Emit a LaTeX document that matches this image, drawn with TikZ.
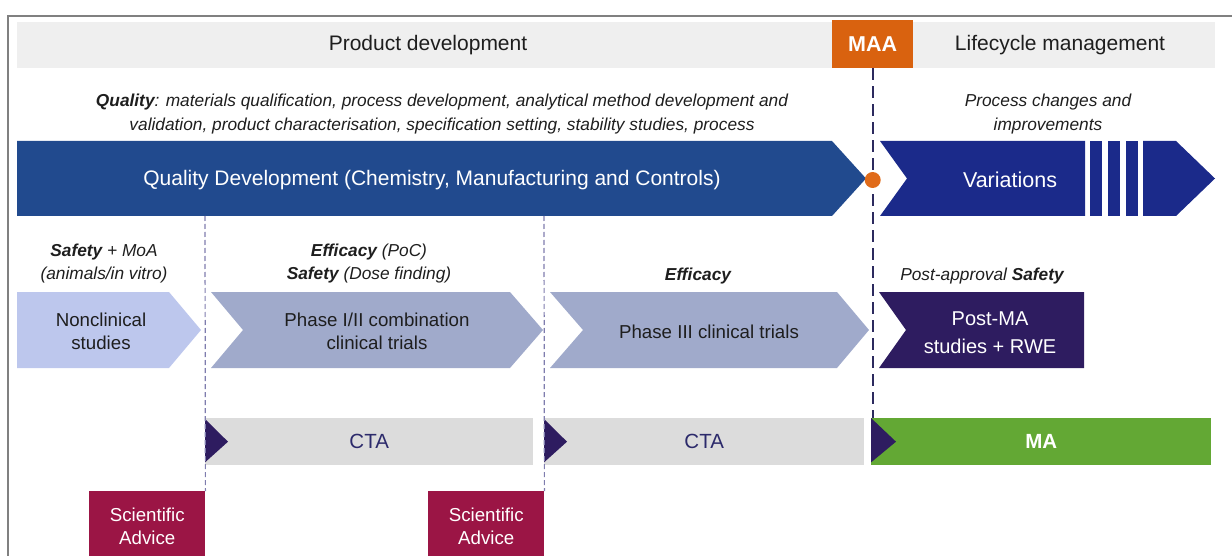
\documentclass[tikz,border=0pt]{standalone}
\usepackage{fontspec}
\setmainfont{Liberation Sans}
\usetikzlibrary{positioning}

\definecolor{bandgray}{HTML}{EFEFEF}
\definecolor{maaorange}{HTML}{D9620F}
\definecolor{qblue}{HTML}{214A8E}
\definecolor{varblue}{HTML}{1B2A8A}
\definecolor{dotorange}{HTML}{E06B1A}
\definecolor{nonclin}{HTML}{BDC7ED}
\definecolor{phase}{HTML}{A0AACB}
\definecolor{postma}{HTML}{2E1C60}
\definecolor{ctagray}{HTML}{DCDCDC}
\definecolor{ctatext}{HTML}{2C2A6B}
\definecolor{magreen}{HTML}{63A834}
\definecolor{sared}{HTML}{9B1545}
\definecolor{lightdash}{HTML}{7F7DAE}
\definecolor{navydash}{HTML}{2C2A5E}
\definecolor{txtgray}{HTML}{1E1E1E}

\begin{document}
\begin{tikzpicture}[x=1pt,y=-1pt,
    head/.style={inner sep=0pt,text=txtgray,font=\fontsize{21}{25}\selectfont},
    lbl/.style={align=center,inner sep=0pt,text=txtgray,font=\fontsize{17.3}{23}\selectfont\itshape},
    chv/.style={align=center,inner sep=0pt,text=txtgray,font=\fontsize{18.7}{23}\selectfont},
    bar/.style={anchor=north west,inner sep=0pt,minimum height=47,font=\fontsize{20.5}{24}\selectfont},
    tri/.style={fill=postma},
    sabox/.style={anchor=north west,fill=sared,text=white,minimum width=116,minimum height=71,
                  inner sep=0pt,align=center,font=\fontsize{18.7}{23}\selectfont},
    ldash/.style={lightdash,line width=1.2pt,dash pattern=on 5pt off 3pt},
    ndash/.style={navydash,line width=2.4pt,dash pattern=on 12pt off 6pt}]

    \useasboundingbox (0,0) rectangle (1232,556);

    % frame and header
    \draw[gray,line width=1.6pt] (8,556) -- (8,16) -- (1232,16);
    \node[fill=bandgray,anchor=north west,minimum width=1198,minimum height=46,inner sep=0pt] (band) at (17,22) {};
    \node[fill=maaorange,anchor=north west,minimum width=81,minimum height=48,inner sep=0pt,
          text=white,font=\fontsize{21.5}{24}\selectfont\bfseries] (MAA) at (832,20) {MAA};
    \node[head] (PD) at (428,45) {Product development};
    \node[head] (LM) at (1060,45) {Lifecycle management};

    % quality row
    \node[lbl,font=\fontsize{17.3}{24}\selectfont\itshape] (QL) at (442,114) {\textbf{Quality}: materials qualification, process development, analytical method development and\\
                                  validation, product characterisation, specification setting, stability studies, process};
    \node[lbl,font=\fontsize{17.3}{24}\selectfont\itshape] (PC) at (1048,114) {Process changes and\\improvements};

    \fill[qblue] (17,141) -- (832,141) -- (866,178.5) -- (832,216) -- (17,216) -- cycle;
    \fill[varblue] (880,141) -- (1085,141) -- (1085,216) -- (880,216) -- (907,178.5) -- cycle;
    \fill[varblue] (1090,141) rectangle (1102,216);
    \fill[varblue] (1108,141) rectangle (1120,216);
    \fill[varblue] (1126,141) rectangle (1138,216);
    \fill[varblue] (1143,141) -- (1176,141) -- (1215,178.5) -- (1176,216) -- (1143,216) -- cycle;
    \node[chv,text=white,font=\fontsize{21}{25}\selectfont] (QD) at (432,180) {Quality Development (Chemistry, Manufacturing and Controls)};
    \node[chv,text=white,font=\fontsize{21.5}{25}\selectfont] (VAR) at (1010,180) {Variations};

    % development chevrons
    \fill[nonclin] (17,292) -- (169,292) -- (201,330) -- (169,368) -- (17,368) -- cycle;
    \fill[phase] (211,292) -- (510,292) -- (543,330) -- (510,368) -- (211,368) -- (243,330) -- cycle;
    \fill[phase] (550,292) -- (837,292) -- (869,330) -- (837,368) -- (550,368) -- (583,330) -- cycle;
    \fill[postma] (879,292) -- (1084,292) -- (1084,368) -- (879,368) -- (906,330) -- cycle;

    \node[lbl] (L1) at (104,264) {\textbf{Safety} + MoA\\(animals/in vitro)};
    \node[lbl] (L2) at (369,264) {\textbf{Efficacy} (PoC)\\\textbf{Safety} (Dose finding)};
    \node[lbl] (L3) at (698,276) {\textbf{Efficacy}};
    \node[lbl] (L4) at (982,276) {Post-approval \textbf{Safety}};

    \node[chv] (NC) at (101,331) {Nonclinical\\studies};
    \node[chv] (P12) at (377,331) {Phase I/II combination\\clinical trials};
    \node[chv] (P3) at (709,332) {Phase III clinical trials};
    \node[chv,text=white,font=\fontsize{20}{28}\selectfont] (PMA) at (990,333) {Post-MA\\studies + RWE};

    % authorisation bars
    \node[bar,fill=ctagray,text=ctatext,minimum width=328] (C1) at (205,418) {CTA};
    \node[bar,fill=ctagray,text=ctatext,minimum width=320] (C2) at (544,418) {CTA};
    \node[bar,fill=magreen,text=white,minimum width=340,font=\fontsize{20.5}{24}\selectfont\bfseries] (MA) at (871,418) {MA};
    \fill[tri] ([yshift=-1pt]C1.north west) -- ([xshift=23pt]C1.west) -- ([yshift=3pt]C1.south west) -- cycle;
    \fill[tri] ([yshift=-1pt]C2.north west) -- ([xshift=23pt]C2.west) -- ([yshift=3pt]C2.south west) -- cycle;
    \fill[tri] (MA.north west) -- ([xshift=25pt]MA.west) -- ([yshift=3pt]MA.south west) -- cycle;

    % scientific advice
    \node[sabox] (SA1) at (89,491) {Scientific\\Advice};
    \node[sabox] (SA2) at (428,491) {Scientific\\Advice};

    % milestones
    \coordinate (q1) at (205,216);
    \coordinate (q2) at (544,216);
    \draw[ldash] (q1) -- (SA1.north east);
    \draw[ldash] (q2) -- (SA2.north east);
    \draw[ndash] (MAA.south) -- (MAA.south |- MA.north);
    \fill[dotorange] (MAA.south |- QD) circle (8);

\end{tikzpicture}
\end{document}
